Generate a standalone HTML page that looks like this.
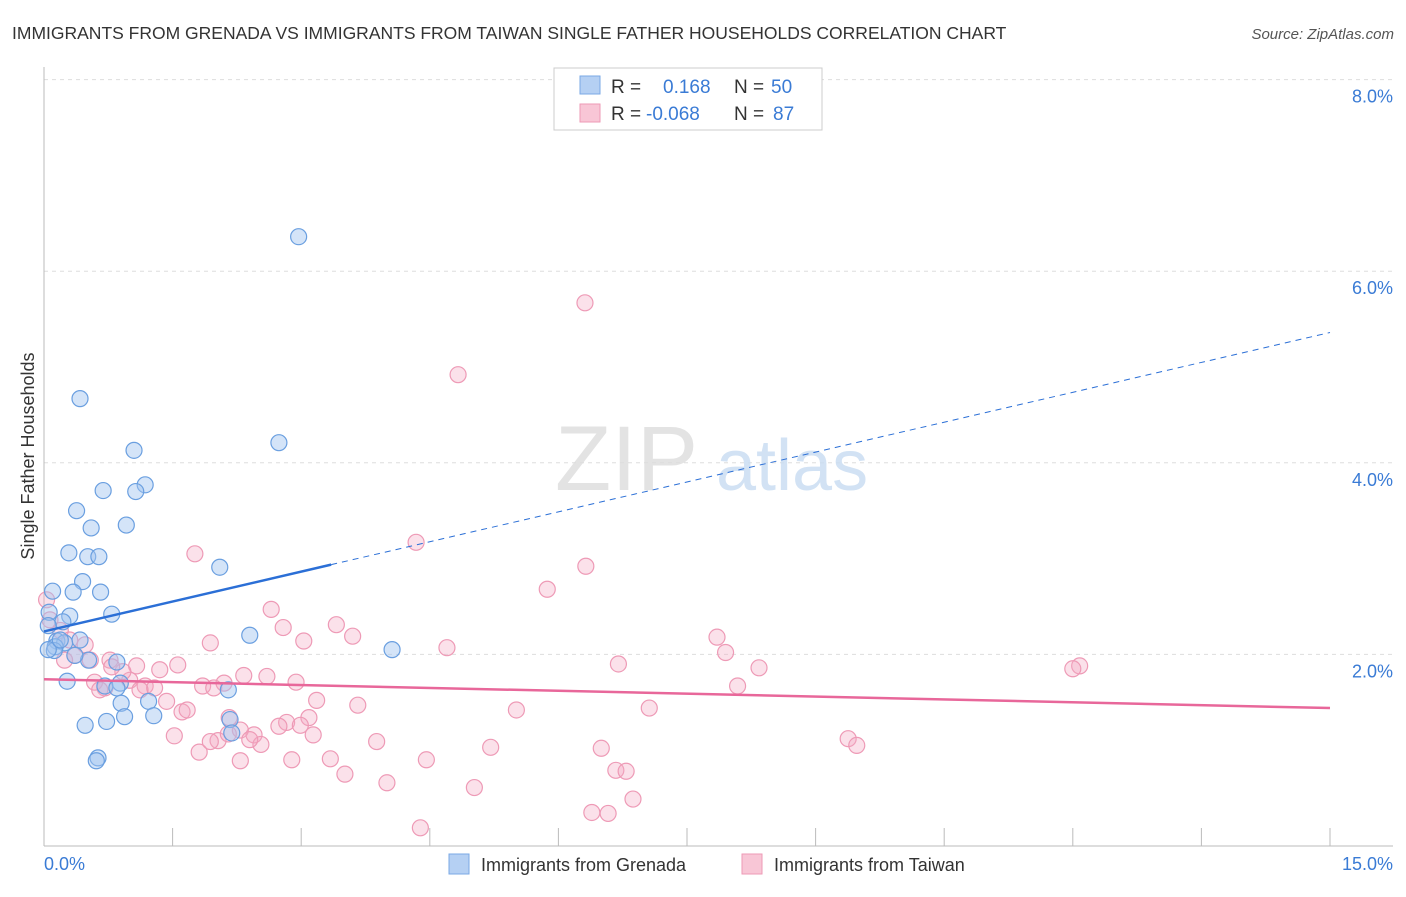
<!DOCTYPE html>
<html><head><meta charset="utf-8">
<style>
body{margin:0;background:#fff;font-family:"Liberation Sans",sans-serif;}
svg text{font-family:"Liberation Sans",sans-serif;}
</style></head>
<body>
<svg id="chart" width="1406" height="892" viewBox="0 0 1406 892" xmlns="http://www.w3.org/2000/svg">
<text x="12" y="39" font-size="17.5" fill="#333">IMMIGRANTS FROM GRENADA VS IMMIGRANTS FROM TAIWAN SINGLE FATHER HOUSEHOLDS CORRELATION CHART</text>
<text x="1394" y="39" font-size="15" fill="#555" text-anchor="end" font-style="italic">Source: ZipAtlas.com</text>
<g id="grid"></g>
<g>
<text x="555" y="490" font-size="92" fill="#ddd" font-family="Liberation Serif" opacity="0.8">ZIP</text>
<text x="716" y="490" font-size="72" fill="#c8dcf2" opacity="0.8">atlas</text>
</g>
<line x1="44" y1="67" x2="44" y2="846" stroke="#bbb"/>
<line x1="44" y1="846" x2="1393" y2="846" stroke="#bbb"/>
<g id="xticks"></g>
<g id="ylabels"></g>
<text x="44" y="870" font-size="18" fill="#3a7bd5">0.0%</text>
<text x="1393" y="870" font-size="18" fill="#3a7bd5" text-anchor="end">15.0%</text>
<text x="0" y="0" font-size="18" fill="#333" text-anchor="middle" transform="translate(34,456) rotate(-90)">Single Father Households</text>
<g id="pink"></g>
<g id="blue"></g>
<g id="trends"></g>
<g>
<rect x="554" y="68" width="268" height="62" fill="#fff" stroke="#ccc"/>
<rect x="580" y="76" width="20" height="18" fill="#b5d0f3" stroke="#7aa8e6"/>
<rect x="580" y="104" width="20" height="18" fill="#f8c6d6" stroke="#ee9ab6"/>
<text x="611" y="93" font-size="19" fill="#333">R =</text>
<text x="663" y="93" font-size="19" fill="#3a7bd5">0.168</text>
<text x="734" y="93" font-size="19" fill="#333">N =</text>
<text x="771" y="93" font-size="19" fill="#3a7bd5">50</text>
<text x="611" y="120" font-size="19" fill="#333">R =</text>
<text x="646" y="120" font-size="19" fill="#3a7bd5">-0.068</text>
<text x="734" y="120" font-size="19" fill="#333">N =</text>
<text x="773" y="120" font-size="19" fill="#3a7bd5">87</text>
</g>
<g>
<rect x="449" y="854" width="20" height="20" fill="#b5d0f3" stroke="#7aa8e6"/>
<text x="481" y="871" font-size="18" fill="#333">Immigrants from Grenada</text>
<rect x="742" y="854" width="20" height="20" fill="#f8c6d6" stroke="#ee9ab6"/>
<text x="774" y="871" font-size="18" fill="#333">Immigrants from Taiwan</text>
</g>
</svg>
<script>
const grenadaX=[2.97,0.42,2.74,1.05,1.18,0.69,1.07,0.38,0.55,0.96,0.29,0.51,0.64,2.05,0.45,0.10,0.34,0.66,0.06,0.30,0.79,0.22,0.05,2.40,0.42,0.15,0.24,0.13,0.12,4.06,0.52,0.85,0.27,0.71,0.89,0.85,2.15,1.22,0.90,1.28,0.94,2.17,0.48,0.73,2.19,0.63,0.61,0.05,0.19,0.36];
const grenadaY=[6.36,4.67,4.21,4.13,3.77,3.71,3.70,3.50,3.32,3.35,3.06,3.02,3.02,2.91,2.76,2.66,2.65,2.65,2.44,2.40,2.42,2.34,2.30,2.20,2.15,2.14,2.12,2.08,2.04,2.05,1.94,1.92,1.72,1.67,1.70,1.65,1.63,1.51,1.49,1.36,1.35,1.32,1.26,1.30,1.18,0.92,0.89,2.05,2.15,1.99];
const taiwanX=[6.31,4.83,1.76,4.34,6.32,5.87,2.65,3.41,2.79,7.85,3.60,3.03,1.94,4.70,7.95,0.03,0.19,0.48,0.36,0.77,1.08,1.56,1.35,6.70,8.34,12.08,12.00,2.33,2.60,2.94,2.10,0.59,0.71,1.00,1.18,1.29,1.85,1.98,8.09,3.18,1.43,3.66,5.51,7.06,1.61,1.67,3.09,2.16,2.83,2.74,1.52,2.45,3.14,2.03,2.53,3.88,5.21,6.50,9.38,9.48,1.81,2.29,2.89,3.34,4.46,3.51,6.67,6.79,4.00,5.02,6.87,6.39,6.58,4.39,0.92,0.54,0.30,0.79,0.07,0.24,0.65,1.12,2.29,2.40,2.99,1.94,2.15];
const taiwanY=[5.67,4.92,3.05,3.17,2.92,2.68,2.47,2.31,2.28,2.18,2.19,2.14,2.12,2.07,2.02,2.57,2.25,2.10,1.99,1.94,1.88,1.89,1.84,1.90,1.86,1.88,1.85,1.78,1.77,1.71,1.70,1.71,1.65,1.73,1.67,1.65,1.67,1.65,1.67,1.52,1.51,1.47,1.42,1.44,1.40,1.42,1.34,1.34,1.29,1.25,1.15,1.16,1.16,1.10,1.06,1.09,1.03,1.02,1.12,1.05,0.98,0.89,0.90,0.91,0.90,0.75,0.79,0.78,0.66,0.61,0.49,0.35,0.34,0.19,1.82,1.94,2.15,1.87,2.36,1.94,1.63,1.63,1.21,1.11,1.26,1.09,1.17];
const yTicks=[2,4,6,8];
const yTickLabels=["2.0%","4.0%","6.0%","8.0%"];
const xTicks=[0,1.5,3,4.5,6,7.5,9,10.5,12,13.5,15];
const grenadaTrend=[2.24,5.36];
const taiwanTrend=[1.74,1.44];
const grenadaSolidEnd=3.35;

const NS="http://www.w3.org/2000/svg";
const X=v=>44+v/15*1286;
const Y=v=>846-v*95.8;
function mk(tag,attrs,parent){const e=document.createElementNS(NS,tag);for(const k in attrs)e.setAttribute(k,attrs[k]);parent.appendChild(e);return e;}
const grid=document.getElementById('grid'),yl=document.getElementById('ylabels'),xt=document.getElementById('xticks');
yTicks.forEach((t,i)=>{
  const l=mk('line',{x1:44,x2:1393,y1:Y(t),y2:Y(t),stroke:'#ddd','stroke-dasharray':'4,4'},grid);
  
  
  const tx=mk('text',{x:1393,y:Y(t)+23,'font-size':18,fill:'#3a7bd5','text-anchor':'end'},yl);
  tx.textContent=yTickLabels[i];
  
  
});
xTicks.forEach(t=>{
  const l=mk('line',{x1:X(t),x2:X(t),y1:828,y2:846,stroke:'#bbb'},xt);
  
  
});
const pg=document.getElementById('pink');
taiwanX.forEach((x,i)=>{
  const c=mk('circle',{cx:X(x),cy:Y(taiwanY[i]),r:8,fill:'rgba(244,170,196,0.35)',stroke:'#ee9ab6','stroke-width':1.2},pg);
  
  
});
const bg=document.getElementById('blue');
grenadaX.forEach((x,i)=>{
  const c=mk('circle',{cx:X(x),cy:Y(grenadaY[i]),r:8,fill:'rgba(160,196,240,0.45)',stroke:'#6a9fe0','stroke-width':1.2},bg);
  
  
});
const tg=document.getElementById('trends');
const by=x=>grenadaTrend[0]+(grenadaTrend[1]-grenadaTrend[0])*x/15;
let l1=mk('line',{x1:X(0),y1:Y(by(0)),x2:X(grenadaSolidEnd),y2:Y(by(grenadaSolidEnd)),stroke:'#2b6fd6','stroke-width':2.5},tg);


let l2=mk('line',{x1:X(grenadaSolidEnd),y1:Y(by(grenadaSolidEnd)),x2:X(15),y2:Y(by(15)),stroke:'#2b6fd6','stroke-width':1,'stroke-dasharray':'6,5'},tg);


let l3=mk('line',{x1:X(0),y1:Y(taiwanTrend[0]),x2:X(15),y2:Y(taiwanTrend[1]),stroke:'#e8679a','stroke-width':2.5},tg);


</script>
</body></html>
